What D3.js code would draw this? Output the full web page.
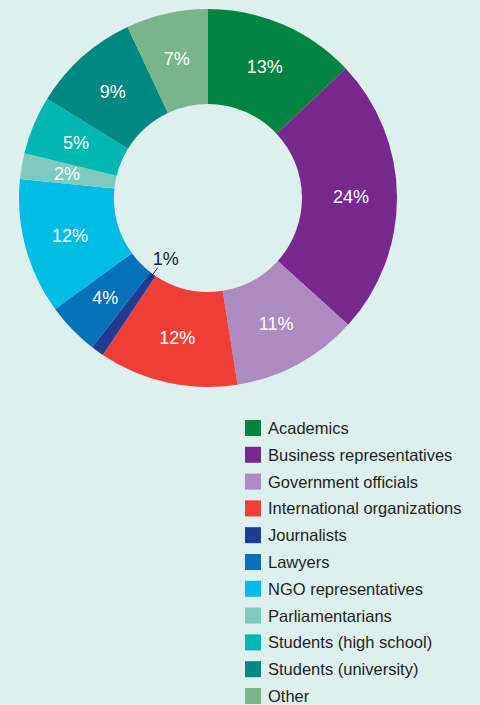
<!DOCTYPE html>
<html><head><meta charset="utf-8">
<script src="https://cdn.jsdelivr.net/npm/d3@7"></script>
<style>
html,body{margin:0;padding:0;background:#ddf0ee;}
svg{display:block;}
</style></head>
<body>
<svg id="chart" width="480" height="705"></svg>
<script>
const categories = ["Academics","Business representatives","Government officials","International organizations","Journalists","Lawyers","NGO representatives","Parliamentarians","Students (high school)","Students (university)","Other"];
const values = [13, 23.7, 10.8, 11.9, 1.1, 4.5, 11.6, 2.2, 5.0, 9.2, 7.0];
const labels = ["13%","24%","11%","12%","1%","4%","12%","2%","5%","9%","7%"];
const colors = ["#00843f","#77298f","#ad8abf","#ee3e36","#1f3c93","#0571b8","#00bde6","#7dcbbf","#00b7b1","#008882","#79b48a"];

const svg = d3.select("#chart");
const cx = 208, cy = 198, rOuter = 189, rInner = 94;
const g = svg.append("g").attr("transform", `translate(${cx},${cy})`);
const data = categories.map((c,i)=>({cat:c, value:values[i], label:labels[i], color:colors[i]}));
const pie = d3.pie().value(d=>d.value).sort(null);
const arcs = pie(data);
const arc = d3.arc().innerRadius(rInner).outerRadius(rOuter);
const labelArc = d3.arc().innerRadius(rInner + 49).outerRadius(rInner + 49);

g.selectAll("path.slice").data(arcs).enter().append("path")
  .attr("class","slice").attr("d", arc).attr("fill", d=>d.data.color);

const font = "'Liberation Sans', Arial, Helvetica, sans-serif";
g.selectAll("text.lbl").data(arcs.filter(d=>d.data.value > 1.5)).enter().append("text")
  .attr("class","lbl")
  .attr("transform", d=>{const c = labelArc.centroid(d); return `translate(${c[0]},${c[1]})`;})
  .attr("text-anchor","middle").attr("dy","0.36em")
  .attr("font-family", font).attr("font-size", 18).attr("fill","#ffffff")
  .text(d=>d.data.label);

// small slice label with leader line
arcs.filter(d=>d.data.value <= 1.5).forEach(d=>{
  const mid = (d.startAngle + d.endAngle)/2;
  const p1 = [Math.sin(mid)*(rInner+8), -Math.cos(mid)*(rInner+8)];
  const p2 = [Math.sin(mid)*(rInner-8), -Math.cos(mid)*(rInner-8)];
  g.append("line").attr("x1",p1[0]).attr("y1",p1[1]).attr("x2",p2[0]).attr("y2",p2[1])
    .attr("stroke","#231f20").attr("stroke-width",1);
  g.append("text").attr("x", p2[0]-5).attr("y", p2[1]-3)
    .attr("font-family", font).attr("font-size", 18).attr("fill","#231f20")
    .text(d.data.label);
});

// legend
const leg = svg.append("g").attr("transform","translate(245,420)");
const rowH = 26.8;
const rows = leg.selectAll("g.row").data(data).enter().append("g")
  .attr("class","row").attr("transform",(d,i)=>`translate(0,${i*rowH})`);
rows.append("rect").attr("width",16).attr("height",16).attr("fill",d=>d.color);
rows.append("text").attr("x",23).attr("y",14)
  .attr("font-family", font).attr("font-size",16.5).attr("fill","#231f20")
  .text(d=>d.cat);
</script>
</body></html>
